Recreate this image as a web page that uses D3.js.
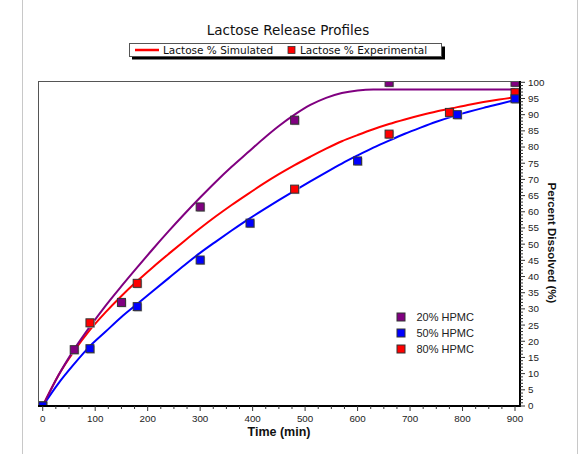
<!DOCTYPE html>
<html><head><meta charset="utf-8">
<script src="https://cdn.jsdelivr.net/npm/d3@7"></script>
<style>body{margin:0;background:#fff}svg{display:block}</style>
</head><body>
<script>
// ---- data ----
const seriesNames = ["20% HPMC", "50% HPMC", "80% HPMC"];
const seriesColors = ["#800080", "#0000ff", "#ff0000"];
// simulated curve sample times (min)
const simTimes = [0,30,60,90,120,150,180,210,240,270,300,330,360,390,420,450,480,510,540,570,600,630,660,690,720,750,780,810,840,870,900];
const sim20 = [0,9.5,17.5,24.5,31,37,42.8,48.5,54,59.3,64.4,69.3,73.9,78.2,82.5,86.5,90,93,95.2,96.7,97.5,97.8,97.8,97.8,97.8,97.8,97.8,97.8,97.8,97.8,97.8];
const sim50 = [0,7,13,18.5,23,27.5,31.5,35.5,39.5,43.5,47.3,50.8,54.2,57.5,60.6,63.6,66.5,69.4,72.2,74.9,77.4,79.8,82,84.1,86,87.8,89.4,90.8,92.1,93.3,94.5];
const sim80 = [0,9.5,17,23.5,29,34,38.6,42.9,47,51,54.9,58.6,62.1,65.4,68.6,71.6,74.4,77,79.5,81.8,83.7,85.5,87.1,88.5,89.8,91,92,93,93.9,94.7,95.4];
// experimental points
const exp20T = [0,60,150,300,480,660,900];
const exp20V = [0,17.4,32,61.5,88.3,100,100];
const exp50T = [0,90,180,300,395,600,790,900];
const exp50V = [0,17.7,30.7,45.1,56.5,75.7,90,94.9];
const exp80T = [0,90,180,480,660,775,900];
const exp80V = [0,25.7,37.9,67,84,90.7,96.8];
const xTickValues = [0,100,200,300,400,500,600,700,800,900];
const yTickValues = d3.range(0,101,5);

const W = 582, H = 454;
const svg = d3.select("body").append("svg").attr("width", W).attr("height", H);

// outer panel border lines
svg.append("line").attr("x1",22.5).attr("x2",22.5).attr("y1",0).attr("y2",H).attr("stroke","#c8c8c8");
svg.append("line").attr("x1",577.5).attr("x2",577.5).attr("y1",0).attr("y2",H).attr("stroke","#c8c8c8");

const box = {l:38, t:81, r:520, b:406};
const x = d3.scaleLinear().domain([-9, 909.5]).range([box.l, box.r]);
const y = d3.scaleLinear().domain([0, 100]).range([406, 82.3]);

// title
svg.append("text").attr("x", 288).attr("y", 35).attr("text-anchor","middle")
  .attr("font-family","DejaVu Sans, Verdana, sans-serif").attr("font-size","13.5px").attr("fill","#111")
  .text("Lactose Release Profiles");

// top legend
const lg = svg.append("g");
lg.append("rect").attr("x",132).attr("y",46.5).attr("width",313).attr("height",13).attr("fill","#000");
lg.append("rect").attr("x",129.5).attr("y",43.5).attr("width",312).attr("height",13).attr("fill","#fff").attr("stroke","#555");
lg.append("line").attr("x1",135).attr("x2",159).attr("y1",50).attr("y2",50).attr("stroke","#ff0000").attr("stroke-width",2.5);
lg.append("text").attr("x",163).attr("y",53.8).attr("font-family","DejaVu Sans, Verdana, sans-serif").attr("font-size","10.5px").attr("fill","#111").text("Lactose % Simulated");
lg.append("rect").attr("x",288).attr("y",46.5).attr("width",7).attr("height",7).attr("fill","#ff0000").attr("stroke","#333").attr("stroke-width",0.8);
lg.append("text").attr("x",300).attr("y",53.8).attr("font-family","DejaVu Sans, Verdana, sans-serif").attr("font-size","10.5px").attr("fill","#111").text("Lactose % Experimental");

// plot frame
svg.append("rect").attr("x",box.l+0.5).attr("y",box.t+0.5).attr("width",box.r-box.l).attr("height",box.b-box.t)
  .attr("fill","#fff").attr("stroke","#555").attr("stroke-width",1);

svg.append("clipPath").attr("id","clip").append("rect")
  .attr("x",box.l+1).attr("y",box.t+1).attr("width",box.r-box.l-1).attr("height",box.b-box.t-1);
const plot = svg.append("g").attr("clip-path","url(#clip)");

const line = d3.line().x(d=>x(d[0])).y(d=>y(d[1])).curve(d3.curveMonotoneX);
const sims = [[sim80,"#ff0000"],[sim50,"#0000ff"],[sim20,"#800080"]];
sims.forEach(([vals,c])=>{
  plot.append("path").datum(simTimes.map((t,i)=>[t,vals[i]]))
    .attr("d",line).attr("fill","none").attr("stroke",c).attr("stroke-width",2);
});

const exps = [[exp20T,exp20V,"#800080"],[exp80T,exp80V,"#ff0000"],[exp50T,exp50V,"#0000ff"]];
const ms = 8;
exps.forEach(([ts,vs,c])=>{
  const g = plot.append("g");
  ts.forEach((t,i)=>{
    g.append("rect").attr("x",x(t)-ms/2+1).attr("y",y(vs[i])-ms/2+1).attr("width",ms).attr("height",ms).attr("fill","#bbb");
    g.append("rect").attr("x",x(t)-ms/2).attr("y",y(vs[i])-ms/2).attr("width",ms).attr("height",ms)
      .attr("fill",c).attr("stroke","#333").attr("stroke-width",1);
  });
});

// x axis
const xAxis = svg.append("g").attr("transform",`translate(0,${box.b})`);
xAxis.append("line").attr("x1",box.l).attr("x2",box.r+1).attr("y1",0).attr("y2",0).attr("stroke","#000").attr("stroke-width",2);
d3.range(0,901,25).forEach(v=>{
  const major = v%100===0;
  xAxis.append("line").attr("x1",x(v)).attr("x2",x(v)).attr("y1",0).attr("y2",major?5:3).attr("stroke","#333").attr("stroke-width",1);
});
xAxis.selectAll("text.xt").data(xTickValues).join("text").attr("class","xt")
  .attr("x",d=>x(d)).attr("y",16).attr("text-anchor","middle")
  .attr("font-family","Liberation Sans, Arial, sans-serif").attr("font-size","9.8px").attr("fill","#222").text(d=>d);
svg.append("text").attr("x",279).attr("y",436).attr("text-anchor","middle")
  .attr("font-family","Liberation Sans, Arial, sans-serif").attr("font-size","12.5px").attr("font-weight","bold").attr("fill","#111")
  .text("Time (min)");

// y axis (right)
const yAxis = svg.append("g").attr("transform",`translate(${box.r},0)`);
yAxis.append("line").attr("x1",0).attr("x2",0).attr("y1",box.t).attr("y2",box.b+1).attr("stroke","#000").attr("stroke-width",2);
d3.range(0,101,1).forEach(v=>{
  const major = v%5===0;
  yAxis.append("line").attr("x1",0).attr("x2",major?5:3).attr("y1",y(v)).attr("y2",y(v)).attr("stroke","#333").attr("stroke-width",1);
});
yAxis.selectAll("text.yt").data(yTickValues).join("text").attr("class","yt")
  .attr("x",8).attr("y",d=>y(d)).attr("dy","0.35em")
  .attr("font-family","Liberation Sans, Arial, sans-serif").attr("font-size","9.8px").attr("fill","#222").text(d=>d);
svg.append("text").attr("transform","translate(548,243) rotate(90)").attr("text-anchor","middle")
  .attr("font-family","Liberation Sans, Arial, sans-serif").attr("font-size","11.5px").attr("font-weight","bold").attr("fill","#111")
  .text("Percent Dissolved (%)");

// series legend
const sl = svg.append("g");
seriesNames.forEach((n,i)=>{
  const cy = 317 + i*16;
  sl.append("rect").attr("x",397).attr("y",cy-4).attr("width",8).attr("height",8).attr("fill",seriesColors[i]).attr("stroke","#333").attr("stroke-width",1);
  sl.append("text").attr("x",416.5).attr("y",cy).attr("dy","0.36em")
    .attr("font-family","Liberation Sans, Arial, sans-serif").attr("font-size","11px").attr("fill","#222").text(n);
});
</script>
</body></html>
